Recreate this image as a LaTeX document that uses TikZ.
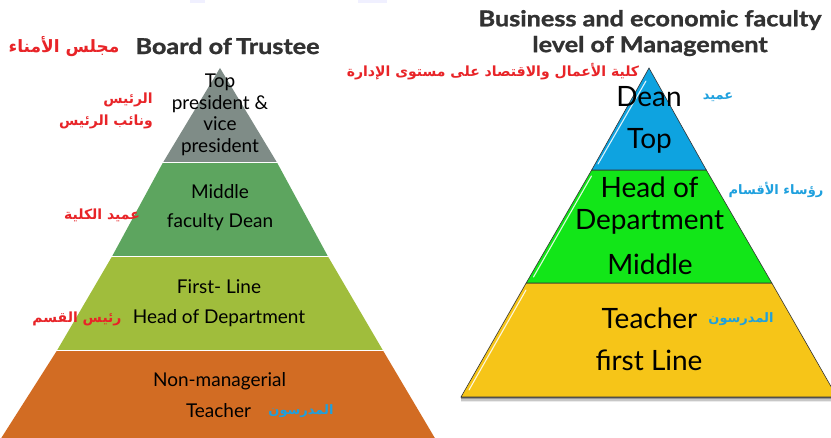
\documentclass[tikz,border=0pt]{standalone}
\usepackage{fontspec}
\setmainfont{Lato}
\newfontfamily\ar[Script=Arabic]{DejaVu Sans}
\newfontfamily\ttlfont[FakeBold=1.2]{Lato Bold}
\TeXXeTstate=1
\definecolor{cgray}{RGB}{127,140,135}
\definecolor{cgreen}{RGB}{93,165,95}
\definecolor{clime}{RGB}{160,189,60}
\definecolor{corange}{RGB}{210,108,35}
\definecolor{cblue}{RGB}{14,163,224}
\definecolor{cbright}{RGB}{18,230,24}
\definecolor{cyellow}{RGB}{246,197,24}
\definecolor{tgray}{RGB}{50,50,50}
\definecolor{arred}{RGB}{232,36,40}
\definecolor{arblue}{RGB}{30,160,222}
\newcommand{\wide}[1]{\scalebox{1.2}[1.04]{#1}}
\tikzset{
  en/.style={font=\fontsize{19}{21.5}\selectfont, text=black, align=center, inner sep=0pt},
  enbig/.style={font=\fontsize{28}{30}\selectfont, text=black, inner sep=0pt},
  ttl/.style={font=\ttlfont\fontsize{21}{26}\selectfont, text=tgray, inner sep=0pt},
  arr/.style={font=\ar\bfseries\fontsize{14}{22}\selectfont, text=arred, inner sep=0pt},
  arb/.style={font=\ar\bfseries\fontsize{13}{20}\selectfont, text=arblue, inner sep=0pt},
  sep/.style={white, line width=1.6pt},
  bevel/.style={white, line width=1.1pt, opacity=0.85, line cap=round},
  outl/.style={draw=black!80, line width=0.6pt}
}
\begin{document}
\begin{tikzpicture}[x=1pt,y=-1pt]
\useasboundingbox (0,0) rectangle (831,438);
\clip (0,0) rectangle (831,438);
\fill[white] (0,0) rectangle (831,438);
% faint artefacts at the top
\fill[blue!6] (190,0) rectangle (205,3);
\fill[blue!6] (358,0) rectangle (387,3);

% ---------- left pyramid ----------
\fill[cgray] (220,68) -- (277,162.5) -- (163,162.5) -- cycle;
\fill[cgreen] (163,162.5) -- (277,162.5) -- (328,256.5) -- (112,256.5) -- cycle;
\fill[clime] (112,256.5) -- (328,256.5) -- (383,350.5) -- (57,350.5) -- cycle;
\fill[corange] (57,350.5) -- (383,350.5) -- (436,440) -- (0,440) -- cycle;
\draw[sep] (150,162.5) -- (290,162.5);
\draw[sep] (100,256.5) -- (340,256.5);
\draw[sep] (45,350.5) -- (395,350.5);

% ---------- right pyramid ----------
\foreach \o/\op in {1/0.35,2.5/0.25,4/0.15,5.5/0.08}{
  \fill[black, opacity=\op] (461,397) -- (837,397) -- (837,397+\o) -- (461,397+\o) -- cycle;
}
\filldraw[fill=cyellow, outl] (526.2,283) -- (771.8,283) -- (837,397) -- (461,397) -- cycle;
\filldraw[fill=cbright, outl] (591.7,170) -- (706.3,170) -- (771.8,283) -- (526.2,283) -- cycle;
\filldraw[fill=cblue, outl] (649,68) -- (706.3,170) -- (591.7,170) -- cycle;
\draw[bevel] (646,81) -- (598,164);
\draw[bevel] (591.5,176) -- (533.5,277);
\draw[bevel] (526,290) -- (469,390);

% ---------- left texts ----------
\node[ttl] (bot) at (227.5,46) {\wide{Board of\,Trustee}};
\node[arr, font=\ar\bfseries\fontsize{17}{22}\selectfont] (bota) at (64,47) {\beginR مجلس الأمناء\endR};
\node[en] (ltop) at (220,115) {Top\\president \&\\vice\\president};
\node[arr, align=right, anchor=east] (ltopa) at (153,111) {\beginR الرئيس\endR\\\beginR ونائب الرئيس\endR};
\node[en, font=\fontsize{19}{29}\selectfont] (lmid) at (220,208) {Middle\\faculty Dean};
\node[arr] (lmida) at (102,215) {\beginR عميد الكلية\endR};
\node[en, font=\fontsize{19}{30}\selectfont] (lfirst) at (219,303.5) {First- Line\\Head of Department};
\node[arr] (lfirsta) at (77,319) {\beginR رئيس القسم\endR};
\node[en] (lnon) at (219.5,381) {Non-managerial};
\node[en] (lteach) at (218.5,411) {Teacher};
\node[arb] (lteacha) at (301,411) {\beginR المدرسون\endR};

% ---------- right texts ----------
\node[ttl] (rt1) at (650,20) {\wide{Business and economic faculty}};
\node[ttl] (rt2) at (650,46) {\wide{level of Management}};
\node[arr] (rta) at (493,72) {\beginR كلية الأعمال والاقتصاد على مستوى الإدارة\endR};
\node[enbig] (rdean) at (649,97) {Dean};
\node[arb] (rdeana) at (718,97) {\beginR عميد\endR};
\node[enbig] (rtop) at (649.5,141) {Top};
\node[enbig] (rhead) at (649.5,187) {Head of};
\node[enbig] (rdep) at (649.5,222) {Department};
\node[arb] (rheada) at (776,190) {\beginR رؤساء الأقسام\endR};
\node[enbig] (rmid) at (650,264) {Middle};
\node[enbig] (rteach) at (649.5,318) {Teacher};
\node[arb] (rteacha) at (741,319) {\beginR المدرسون\endR};
\node[enbig] (rfirst) at (649,360) {first Line};
\end{tikzpicture}
\end{document}
